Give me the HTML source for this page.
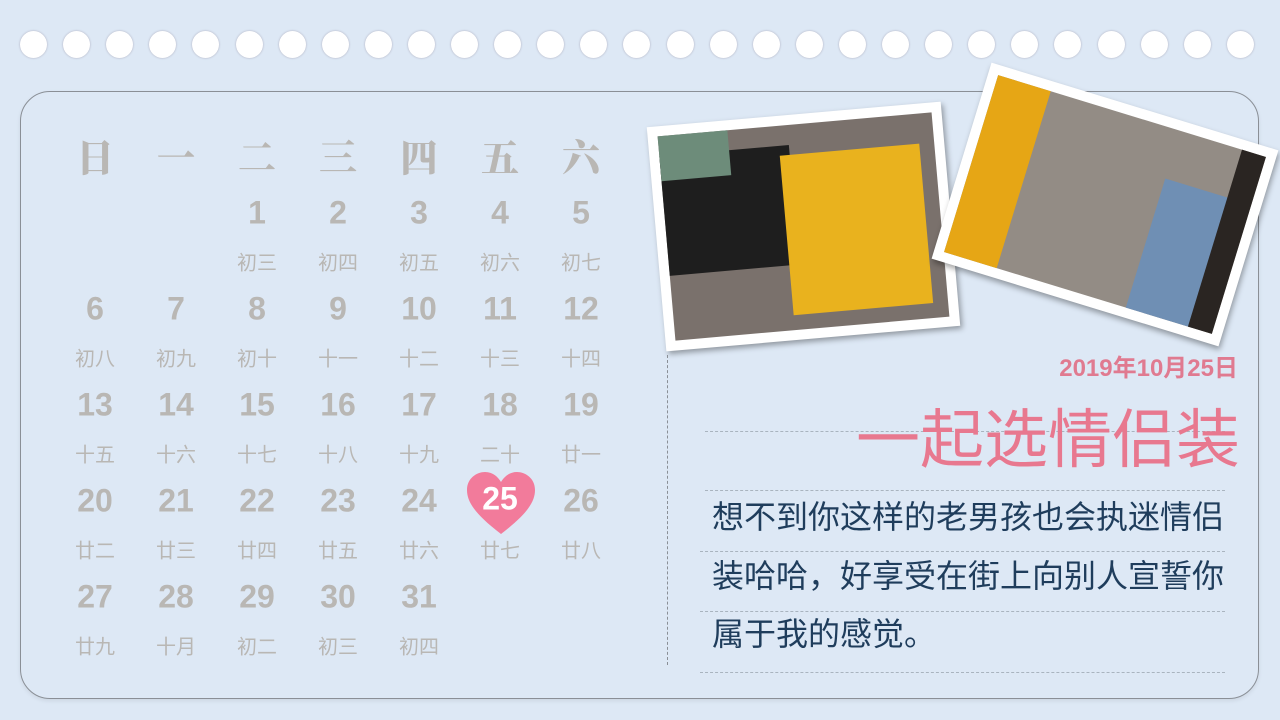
<!DOCTYPE html>
<html><head><meta charset="utf-8"><style>
body{margin:0;width:1280px;height:720px;background:#dde8f5;overflow:hidden;position:relative;font-family:"Liberation Sans","Noto Sans CJK SC",sans-serif}
.abs{position:absolute}
.dot{position:absolute;width:27px;height:27px;border-radius:50%;background:#fff;box-shadow:0 0 2px #aab;top:31px}
.card{left:20px;top:91px;width:1237px;height:606px;border:1px solid #8a8f96;border-radius:30px;box-shadow:0 2px 4px rgba(0,0,0,.08)}
.c{position:absolute;width:80px;text-align:center;transform:translate(-50%,-50%);color:#b9b7b4}
.hd{font-family:"Noto Serif CJK SC",serif;font-weight:900;font-size:38px}
.num{font-weight:bold;font-size:32px}
.lun{font-size:20px}
.dash{position:absolute;height:0;border-top:1px dashed #a9b4bf}
.body{position:absolute;left:712px;font-size:32px;color:#1f3d5c;white-space:nowrap}
</style></head><body>
<div id="dots"></div>
<div class="abs card"></div>
<div id="cal"></div>
<svg class="abs" style="left:465px;top:470px" width="72" height="66"><path d="M36 64 C10 44 2 32 2 20 C2 8 12 2 20 2 C28 2 33 7 36 12 C39 7 44 2 52 2 C60 2 70 8 70 20 C70 32 62 44 36 64Z" fill="#f27b9b"/></svg>
<div class="c num" style="left:500px;top:499px;color:#fff">25</div>
<div class="abs" style="left:656px;top:114px;width:295px;height:225px;background:#fff;transform:rotate(-5deg);box-shadow:2px 3px 6px rgba(0,0,0,.35)">
<div class="abs" style="left:10px;top:10px;width:275px;height:205px;background:#7a716c">
<div class="abs" style="left:0;top:20px;width:130px;height:120px;background:#1e1e1e"></div>
<div class="abs" style="left:120px;top:30px;width:140px;height:160px;background:#e9b21e"></div>
<div class="abs" style="left:0;top:0;width:70px;height:45px;background:#6d8c7a"></div></div></div>
<div class="abs" style="left:955px;top:102px;width:300px;height:205px;background:#fff;transform:rotate(17deg);box-shadow:2px 3px 6px rgba(0,0,0,.35)">
<div class="abs" style="left:10px;top:10px;width:280px;height:185px;background:#938c85">
<div class="abs" style="left:0;top:0;width:55px;height:185px;background:#e6a615"></div>
<div class="abs" style="left:190px;top:50px;width:70px;height:135px;background:#6f8fb4"></div>
<div class="abs" style="left:255px;top:0;width:25px;height:185px;background:#2a2522"></div></div></div>
<div class="abs" style="left:667px;top:355px;height:310px;border-left:1px dashed #8a8f96"></div>
<div class="abs" style="right:42px;top:348px;font-size:24px;font-weight:bold;color:#e07a90">2019年10月25日</div>
<div class="dash" style="left:705px;top:431px;width:520px"></div>
<div class="abs" style="right:40px;top:402px;font-size:64px;line-height:76px;color:#e8788f">一起选情侣装</div>
<div class="dash" style="left:705px;top:490px;width:520px"></div>
<div class="dash" style="left:700px;top:551px;width:525px"></div>
<div class="dash" style="left:700px;top:611px;width:525px"></div>
<div class="dash" style="left:700px;top:672px;width:525px"></div>
<div class="body" style="top:492px">想不到你这样的老男孩也会执迷情侣</div>
<div class="body" style="top:551px">装哈哈，好享受在街上向别人宣誓你</div>
<div class="body" style="top:609px">属于我的感觉。</div>
<script>
const weekdays=["日","一","二","三","四","五","六"];
const days=[1,2,3,4,5,6,7,8,9,10,11,12,13,14,15,16,17,18,19,20,21,22,23,24,25,26,27,28,29,30,31];
const lunar=["初三","初四","初五","初六","初七","初八","初九","初十","十一","十二","十三","十四","十五","十六","十七","十八","十九","二十","廿一","廿二","廿三","廿四","廿五","廿六","廿七","廿八","廿九","十月","初二","初三","初四"];
const startCol=2, highlight=25;
const colX=i=>95+i*81, rowY=r=>213+r*96;
const cal=document.getElementById('cal');
function add(cls,x,y,t,name){const d=document.createElement('div');d.className='c '+cls;d.style.left=x+'px';d.style.top=y+'px';d.textContent=t;


cal.appendChild(d);}
weekdays.forEach((w,i)=>add('hd',colX(i),155,w,'weekday-header'));
days.forEach((d,k)=>{const p=k+startCol,c=p%7,r=Math.floor(p/7);
if(d!==highlight)add('num',colX(c),rowY(r),d,'day-number');
add('lun',colX(c),rowY(r)+48,lunar[k],'lunar-date');});
const dots=document.getElementById('dots');
for(let i=0;i<29;i++){const e=document.createElement('div');e.className='dot';e.style.left=(20+i*43.1)+'px';


dots.appendChild(e);}
</script>
</body></html>
